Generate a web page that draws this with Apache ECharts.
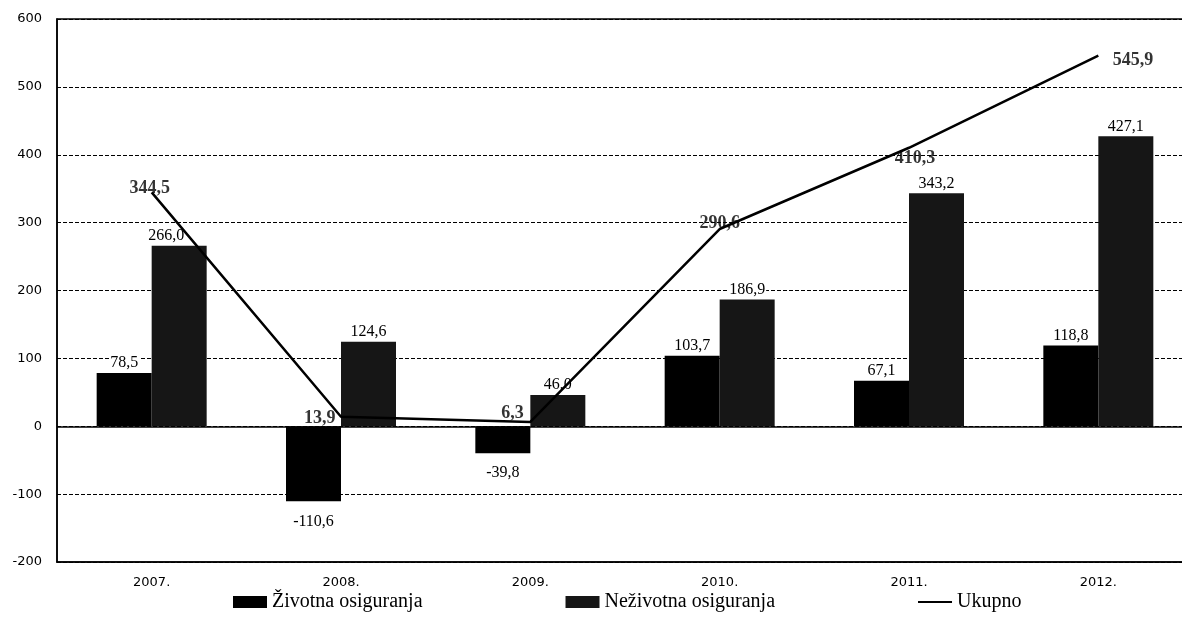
<!DOCTYPE html>
<html>
<head>
<meta charset="utf-8">
<script src="https://cdn.jsdelivr.net/npm/echarts@6/dist/echarts.min.js"></script>
<style>html,body{margin:0;padding:0;background:#fff}#c{width:1182px;height:633px}</style>
</head>
<body>
<div id="c"></div>
<script>
const categories = ['2007.', '2008.', '2009.', '2010.', '2011.', '2012.'];
const zivotna = [78.5, -110.6, -39.8, 103.7, 67.1, 118.8];
const nezivotna = [266.0, 124.6, 46.0, 186.9, 343.2, 427.1];
const ukupno = [344.5, 13.9, 6.3, 290.6, 410.3, 545.9];
const yTicks = { min: -200, max: 600, interval: 100 };

// label placement for the "Ukupno" values (style only)
const ukupnoLabelStyle = [
  { position: 'top', distance: 0, offset: [-2, 5] },
  { position: 'left', distance: 5, offset: [0, 2] },
  { position: 'left', distance: 6, offset: [0, -9] },
  { position: 'top', distance: 0, offset: [0, 4] },
  { position: 'bottom', distance: 1, offset: [6, 0] },
  { position: 'right', distance: 14, offset: [0, 5] }
];

const fmt = v => v.toFixed(1).replace('.', ',');
const serif = 'Liberation Serif';
const barLabelBase = {
  show: true, formatter: p => fmt(p.value), distance: 2,
  fontFamily: serif, fontSize: 16, color: '#000', backgroundColor: '#fff', padding: [0, 1]
};
const barItems = (arr, shiftFirst) => arr.map((v, i) => ({
  value: v,
  label: { position: v < 0 ? 'bottom' : 'top', distance: v < 0 ? 12 : 2, offset: (shiftFirst && i === 0) ? [-13, 0] : [0, 0] }
}));

const chart = echarts.init(document.getElementById('c'));
chart.setOption({
  animation: false,
  backgroundColor: '#fff',
  grid: { left: 57, top: 19, width: 1136, height: 543, outerBoundsMode: 'none', containLabel: false,
          show: true, borderColor: '#000', borderWidth: 1.5, backgroundColor: 'transparent' },
  legend: {
    left: 228, top: 587,
    itemWidth: 34, itemHeight: 12, itemGap: 143,
    textStyle: { fontFamily: serif, fontSize: 20, color: '#000' },
    data: [
      { name: 'Životna osiguranja', icon: 'rect' },
      { name: 'Neživotna osiguranja', icon: 'rect' },
      { name: 'Ukupno', icon: 'path://M0,0 L34,0 L34,2 L0,2 Z' }
    ]
  },
  xAxis: {
    type: 'category', data: categories,
    axisLine: { onZero: false, lineStyle: { color: '#000', width: 1.5 } },
    axisTick: { show: false },
    axisLabel: { color: '#000', fontFamily: 'DejaVu Sans', fontSize: 13, margin: 14 }
  },
  yAxis: {
    type: 'value', min: yTicks.min, max: yTicks.max, interval: yTicks.interval,
    axisLine: { show: true, lineStyle: { color: '#000', width: 1.5 } },
    axisTick: { show: false },
    axisLabel: { color: '#000', fontFamily: 'DejaVu Sans', fontSize: 13, margin: 15 },
    splitLine: { lineStyle: { color: '#000', width: 1, type: [4, 2] } }
  },
  series: [
    {
      name: 'Životna osiguranja', type: 'bar', data: barItems(zivotna, false),
      barWidth: 55, barGap: '0%',
      itemStyle: { color: '#000' },
      label: barLabelBase,
      markLine: {
        silent: true, symbol: 'none', label: { show: false },
        lineStyle: { color: '#000', width: 1.5, type: 'solid' },
        data: [{ yAxis: 0 }]
      }
    },
    {
      name: 'Neživotna osiguranja', type: 'bar', data: barItems(nezivotna, true),
      barWidth: 55, barGap: '0%',
      itemStyle: { color: '#161616' },
      label: barLabelBase
    },
    {
      name: 'Ukupno', type: 'line', data: ukupno,
      symbol: 'none', showSymbol: false,
      lineStyle: { color: '#000', width: 2.5 },
      itemStyle: { color: '#000' },
      z: 5
    },
    {
      name: 'Ukupno vrijednosti', type: 'scatter',
      data: ukupno.map((v, i) => ({ value: v, label: ukupnoLabelStyle[i] })),
      symbolSize: 1, itemStyle: { color: 'rgba(0,0,0,0)' }, silent: true, z: 6,
      label: {
        show: true, formatter: p => fmt(p.value),
        fontFamily: serif, fontSize: 18, fontWeight: 'bold', color: '#000'
      }
    }
  ]
});
</script>
</body>
</html>
